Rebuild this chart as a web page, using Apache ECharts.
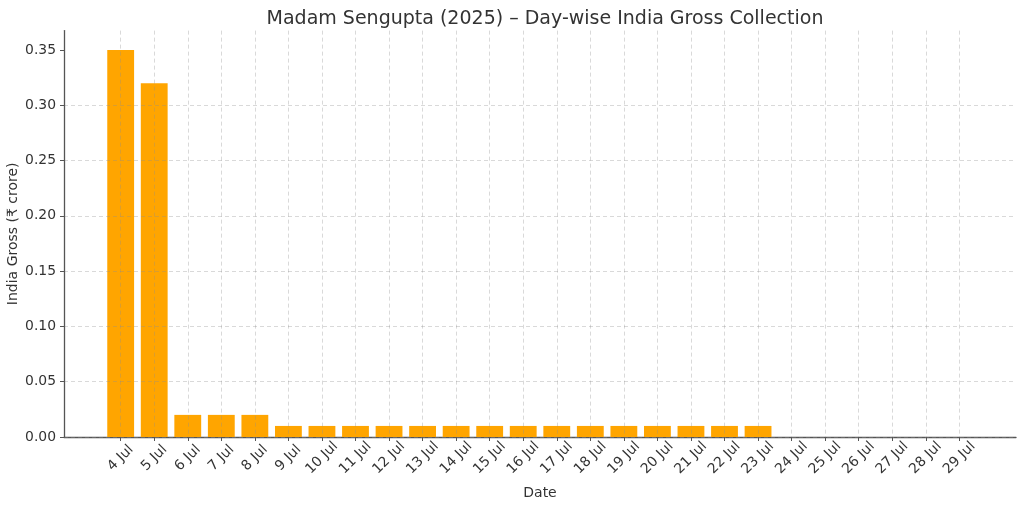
<!DOCTYPE html>
<html>
<head>
<meta charset="utf-8">
<script src="https://cdn.jsdelivr.net/npm/echarts@6/dist/echarts.min.js"></script>
<style>
html,body{margin:0;padding:0;background:#fff;}
#chart{width:1024px;height:508px;}
</style>
</head>
<body>
<div id="chart"></div>
<script>
const categories = ['4 Jul','5 Jul','6 Jul','7 Jul','8 Jul','9 Jul','10 Jul','11 Jul','12 Jul','13 Jul','14 Jul','15 Jul','16 Jul','17 Jul','18 Jul','19 Jul','20 Jul','21 Jul','22 Jul','23 Jul','24 Jul','25 Jul','26 Jul','27 Jul','28 Jul','29 Jul'];
const grossValues = [0.35,0.32,0.02,0.02,0.02,0.01,0.01,0.01,0.01,0.01,0.01,0.01,0.01,0.01,0.01,0.01,0.01,0.01,0.01,0.01,0,0,0,0,0,0];
const yTicks = [0,0.05,0.10,0.15,0.20,0.25,0.30,0.35];
const titleText = 'Madam Sengupta (2025) – Day-wise India Gross Collection';
const yName = 'India Gross (₹ crore)';
const xName = 'Date';

const FONT = 'DejaVu Sans';
const TXT = '#333';
const AX = '#555';
const GRID = 'rgba(140,140,140,0.42)';
const YMAX = 0.3675;

const chart = echarts.init(document.getElementById('chart'), null, {renderer:'canvas'});
chart.setOption({
  backgroundColor:'#fff',
  animation:false,
  textStyle:{fontFamily:FONT},
  title:{
    text:titleText, left:540, top:5, textAlign:'center',
    textStyle:{fontFamily:FONT,fontSize:19,fontWeight:'normal',color:TXT}
  },
  grid:[
    {left:64,right:8,top:30.6,bottom:71,containLabel:false,outerBoundsMode:'none'},
    {left:103.9,right:47.9,top:30.6,bottom:71,containLabel:false,outerBoundsMode:'none'}
  ],
  xAxis:[
    {gridIndex:0,type:'value',min:0,max:1,
      axisLine:{show:true,lineStyle:{color:AX,width:1.3}},
      axisTick:{show:false},axisLabel:{show:false},splitLine:{show:false}},
    {gridIndex:1,type:'category',data:categories,boundaryGap:true,z:3,
      name:xName,nameLocation:'middle',nameGap:49,nameMoveOverlap:false,
      nameTextStyle:{fontFamily:FONT,fontSize:14,color:TXT},
      axisLine:{show:false},
      axisTick:{show:true,alignWithLabel:true,length:4,lineStyle:{color:AX,width:1}},
      axisLabel:{interval:0,rotate:45,align:'center',verticalAlign:'middle',margin:21,
        fontFamily:FONT,fontSize:13.9,color:TXT},
      splitLine:{show:true,alignWithLabel:true,lineStyle:{color:GRID,type:[4,3],width:0.8}}
    }
  ],
  yAxis:[
    {gridIndex:0,type:'value',min:0,max:YMAX,interval:0.05,z:3,
      name:yName,nameLocation:'middle',nameGap:44,nameRotate:90,nameMoveOverlap:false,
      nameTextStyle:{fontFamily:FONT,fontSize:14,color:TXT},
      axisLine:{show:true,lineStyle:{color:AX,width:1.3}},
      axisTick:{show:true,length:4,customValues:yTicks,lineStyle:{color:AX,width:1}},
      axisLabel:{customValues:yTicks,margin:8,
        fontFamily:FONT,fontSize:13.9,color:TXT,
        formatter:v=>v.toFixed(2)},
      splitLine:{show:true,showMaxLine:false,lineStyle:{color:GRID,type:[4,3],width:0.8}}
    },
    {gridIndex:1,type:'value',min:0,max:YMAX,show:false,splitLine:{show:false}}
  ],
  series:[{
    type:'bar',xAxisIndex:1,yAxisIndex:1,data:grossValues,
    barWidth:'80%',
    itemStyle:{color:'#FFA500'}
  }]
});
</script>
</body>
</html>
